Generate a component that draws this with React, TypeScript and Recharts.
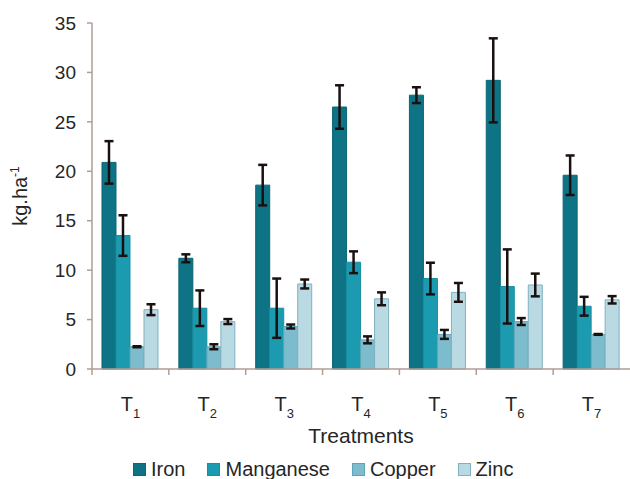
import React from 'react';
import { BarChart, Bar, XAxis, YAxis, ErrorBar, Legend } from 'recharts';

// treatment numbers (rendered as T with subscript)
const treatments = ['1', '2', '3', '4', '5', '6', '7'];

const iron = [20.9, 11.2, 18.6, 26.5, 27.7, 29.2, 19.6];
const ironErr = [2.15, 0.4, 2.05, 2.2, 0.8, 4.25, 2.0];
const manganese = [13.5, 6.15, 6.15, 10.8, 9.15, 8.35, 6.35];
const manganeseErr = [2.05, 1.8, 3.0, 1.1, 1.6, 3.75, 0.95];
const copper = [2.25, 2.25, 4.3, 2.95, 3.5, 4.8, 3.5];
const copperErr = [0.05, 0.25, 0.2, 0.35, 0.45, 0.35, 0.04];
const zinc = [6.0, 4.8, 8.6, 7.1, 7.75, 8.5, 7.0];
const zincErr = [0.55, 0.25, 0.45, 0.65, 0.95, 1.15, 0.37];

const yTicks = [0, 5, 10, 15, 20, 25, 30, 35];

const series = [
  { key: 'iron', name: 'Iron', fill: '#0e7385', stroke: '#0b6675' },
  { key: 'manganese', name: 'Manganese', fill: '#1c9bb0', stroke: '#178ea2' },
  { key: 'copper', name: 'Copper', fill: '#7dbccd', stroke: '#5ea5b7' },
  { key: 'zinc', name: 'Zinc', fill: '#b9d9e3', stroke: '#7fb2c1' },
];

const data = treatments.map((t, i) => ({
  t,
  iron: iron[i],
  ironErr: ironErr[i],
  manganese: manganese[i],
  manganeseErr: manganeseErr[i],
  copper: copper[i],
  copperErr: copperErr[i],
  zinc: zinc[i],
  zincErr: zincErr[i],
}));

const AXIS = '#b09d96';
const TEXT = '#262626';

// label plus a tick mark at the left edge of each category band
const TreatmentTick = (props: any) => {
  const { x, y, payload } = props;
  const half = payload.offset || 0;
  return (
    <g>
      <line x1={x - half} x2={x - half} y1={y} y2={y + 6} stroke={AXIS} strokeWidth={1.5} />
      <text x={x} y={y} dy={42} textAnchor="middle" fill={TEXT} fontSize={20}>
        <tspan>T</tspan>
        <tspan fontSize={13} dy={7}>{payload.value}</tspan>
      </text>
    </g>
  );
};

const YLabel = (props: any) => {
  const vb = props.viewBox || {};
  const cy = vb.y + vb.height / 2;
  return (
    <text x={27} y={cy} transform={`rotate(-90, 27, ${cy})`} textAnchor="middle" fill={TEXT} fontSize={20}>
      <tspan>kg.ha</tspan>
      <tspan fontSize={12} dy={-8}>-1</tspan>
    </text>
  );
};

const LegendContent = () => (
  <div style={{ display: 'flex', height: 30, paddingTop: 10, paddingLeft: 133, boxSizing: 'border-box' }}>
    {series.map((s) => (
      <div key={s.key} style={{ display: 'flex', alignItems: 'center', marginRight: 22, fontSize: 20, color: TEXT, lineHeight: '16px' }}>
        <span style={{ width: 11, height: 11, background: s.fill, border: `1px solid ${s.stroke}`, marginRight: 5, display: 'inline-block' }} />
        <span>{s.name}</span>
      </div>
    ))}
  </div>
);

export default function App() {
  return (
    <div style={{ position: 'absolute', left: 0, top: 0, width: 630, height: 479, background: '#fff', fontFamily: '"Liberation Sans", Arial, sans-serif' }}>
      <BarChart
        width={630}
        height={479}
        data={data}
        margin={{ top: 23, right: 0, left: 0, bottom: 0 }}
        barGap={0}
        barCategoryGap="13%"
      >
        <XAxis
          dataKey="t"
          height={80}
          tickSize={0}
          tickMargin={0}
          tickLine={false}
          axisLine={{ stroke: AXIS, strokeWidth: 1.5 }}
          tick={<TreatmentTick />}
          interval={0}
          label={{ value: 'Treatments', position: 'insideBottom', offset: 6, fill: TEXT, fontSize: 21 }}
        />
        <YAxis
          width={92}
          domain={[0, 35]}
          ticks={yTicks}
          interval={0}
          tickSize={5}
          tickMargin={11}
          axisLine={{ stroke: AXIS, strokeWidth: 1.5 }}
          tickLine={{ stroke: AXIS, strokeWidth: 1.5 }}
          tick={{ fill: TEXT, fontSize: 19 }}
          label={<YLabel />}
        />
        <Legend verticalAlign="bottom" height={30} content={<LegendContent />} />
        {series.map((s) => (
          <Bar key={s.key} dataKey={s.key} name={s.name} fill={s.fill} stroke={s.stroke} strokeWidth={1} isAnimationActive={false}>
            <ErrorBar dataKey={`${s.key}Err`} width={4.5} stroke="#1a1010" strokeWidth={2.5} direction="y" />
          </Bar>
        ))}
      </BarChart>
    </div>
  );
}
